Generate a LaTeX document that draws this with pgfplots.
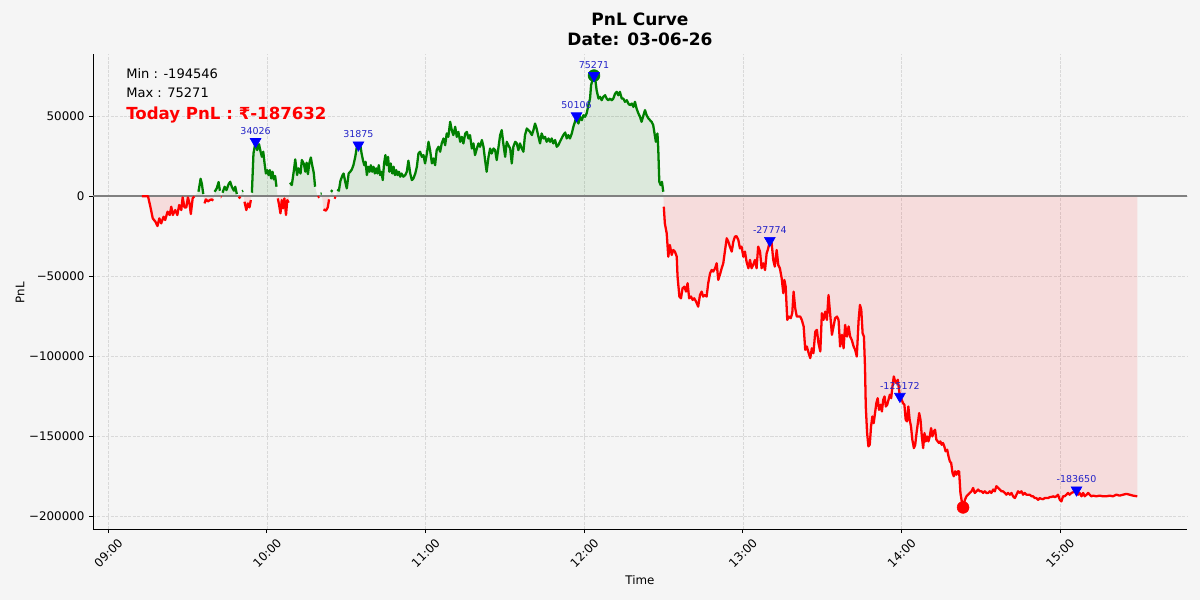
\documentclass[border=0pt]{standalone}
\usepackage{fontspec}
\setmainfont{DejaVu Sans}
\usepackage{pgfplots}
\pgfplotsset{compat=1.18}
\usepackage{pgfplotstable}
\definecolor{bgc}{HTML}{F5F5F5}
\definecolor{mgreen}{HTML}{008000}
\definecolor{mred}{HTML}{FF0000}
\definecolor{mblue}{HTML}{0000FF}
\definecolor{lblue}{HTML}{2424C8}
\definecolor{gridc}{HTML}{D9D9D9}

\pgfplotstableread{
t v
12.7 -100
15.0 -100
15.9 -6660
16.8 -13940
17.8 -16020
18.6 -18720
19.3 -13940
20.0 -17060
20.9 -12900
21.5 -14980
22.4 -9780
23.2 -11860
23.8 -6660
24.4 -11860
25.3 -8740
26.1 -11860
26.8 -5620
27.6 -8740
28.1 -830
28.8 -7070
29.5 -7070
30.1 -830
30.7 -4580
31.2 -11230
31.9 -1460
32.5 -200
34.1 2700
34.9 10800
35.4 7490
35.9 1250
36.4 -4580
36.9 -2080
37.7 -3330
38.4 -2500
39.2 -2080
39.7 -2900
40.2 2700
41.0 4780
41.7 8740
42.2 3330
42.6 -700
42.8 -830
43.2 2080
44.0 5820
44.7 3740
45.5 7490
46.1 8940
46.7 5820
47.5 3330
48.0 5820
48.6 1250
49.3 -1460
50.0 -420
50.6 3000
51.0 3330
51.5 -3540
52.2 -8740
52.8 -4580
53.4 -7070
53.9 -2500
54.3 2080
54.9 26600
55.7 34026
56.3 28700
57.0 32400
57.6 27700
58.1 24500
58.6 27700
59.1 20400
59.6 14100
60.1 16200
60.6 13100
61.1 16200
61.6 11000
62.1 15200
62.6 10400
63.1 12500
63.6 5820
64.1 -1460
64.6 -5620
65.1 -10800
65.6 -2500
66.1 -7700
66.6 -1460
67.2 -11860
67.7 -2500
68.2 -4160
68.7 8320
69.4 6860
70.2 16200
70.7 22900
71.4 13100
71.9 17300
72.7 14100
73.2 22500
74.0 20000
74.5 15200
75.0 20800
75.5 13700
76.0 20400
76.6 24100
77.1 19300
77.7 14600
78.2 5820
79.2 -830
79.8 -420
80.3 1500
80.7 1660
81.4 -8320
82.3 -9150
83.0 -7070
83.5 -2080
84.2 2700
84.8 3740
85.4 -830
86.1 -1250
86.6 4160
87.2 3330
87.8 9570
88.6 13100
89.0 14100
89.6 8940
90.2 4780
90.9 14100
91.5 15200
92.1 16600
92.7 19300
93.4 24500
94.0 30800
94.6 31875
95.3 31800
95.8 26600
96.3 22500
96.8 19300
97.3 21400
97.8 13100
98.3 18300
98.8 15200
99.3 19300
99.8 15200
100.3 18300
100.8 14100
101.3 17300
101.8 14100
102.3 19300
102.8 13100
103.3 15200
103.8 9980
104.3 20400
104.8 25600
105.3 19300
105.8 24500
106.3 15200
106.8 20400
107.4 14100
107.9 18300
108.4 13100
108.9 16200
109.4 13100
109.9 15200
110.4 12100
110.9 14100
111.6 12100
112.3 13100
112.9 15200
113.5 22100
114.2 14100
114.8 9980
115.4 11000
116.1 14100
116.7 18300
117.3 26600
117.9 27700
118.6 24500
119.2 25600
119.8 20400
120.5 26600
121.1 33900
121.7 28700
122.4 20400
123.0 23500
123.6 19300
124.2 28700
124.9 30800
125.5 27700
126.1 32900
126.8 36000
127.4 31800
128.0 39100
128.6 37000
129.3 46400
129.9 41200
130.5 38100
131.2 43300
131.8 37000
132.4 40100
133.1 33900
133.7 37000
134.3 32900
135.0 39100
135.6 40100
136.2 36000
136.8 38100
137.5 29700
138.1 32900
138.7 25600
139.4 29700
140.0 32900
140.6 30800
141.3 35000
141.9 30800
142.5 22500
143.1 15200
143.8 24500
144.4 29700
145.0 26600
145.7 29700
146.3 28700
146.9 22500
147.6 30800
148.2 38100
148.8 41200
149.4 32900
150.1 24500
150.7 33900
151.3 31800
152.0 29700
152.6 20400
153.2 30800
153.9 33900
154.5 32900
155.1 28700
155.7 32900
156.4 29700
157.0 27700
157.6 38100
158.3 42200
158.9 41200
159.5 40100
160.2 38100
160.8 41200
161.4 45300
162.0 42200
162.7 37000
163.3 32900
163.9 39100
164.6 36000
165.2 37000
165.8 33900
166.5 36000
167.1 33900
167.7 36000
168.3 32900
169.0 35000
169.6 30800
170.2 31800
171.1 34900
172.1 38100
172.8 39700
173.4 36000
174.0 38100
174.6 36000
175.3 39100
175.9 43300
176.5 46400
177.1 50106
177.8 45300
178.4 49500
179.1 47400
179.7 50500
180.3 49500
180.9 51600
181.6 56800
182.2 60900
182.6 69300
183.1 72400
183.7 75271
184.3 71300
184.7 66100
185.4 60900
186.0 62000
186.6 59900
187.2 62000
187.9 63000
188.5 60900
189.1 59900
189.8 60900
190.4 59900
191.0 60900
191.7 64100
192.3 65100
192.9 63000
193.5 65100
194.2 60900
194.8 60900
195.4 58900
196.1 59900
196.7 57800
197.3 56800
198.0 57800
198.6 55700
199.2 58900
199.8 54700
200.5 51600
201.1 49500
201.7 46400
202.4 50500
203.0 53700
203.6 50500
204.3 48500
204.9 47400
205.5 46400
206.1 44300
206.8 37000
207.1 33900
207.7 39100
208.0 29700
208.4 8940
208.9 6860
209.4 8940
209.9 2700
210.1 -6660
210.5 -17100
211.2 -23300
211.8 -37900
212.4 -30600
213.1 -36800
213.7 -33700
214.3 -34700
215.0 -37900
215.3 -50300
216.0 -62800
216.6 -63900
217.2 -57600
217.9 -56600
218.5 -59700
219.1 -54500
219.7 -63900
220.4 -62800
221.0 -64900
221.6 -63900
222.3 -65900
223.1 -69100
223.8 -61800
224.4 -59700
225.0 -62800
225.7 -61800
226.3 -62800
226.9 -54500
227.6 -48300
228.2 -46200
228.8 -47200
229.5 -45100
230.1 -42000
230.7 -52400
231.3 -49300
232.0 -45100
232.6 -42000
233.2 -34700
233.9 -26400
234.5 -28500
235.1 -31600
235.8 -34700
236.4 -28500
237.0 -25400
237.6 -25000
238.3 -27500
238.9 -32700
239.5 -31600
240.2 -37900
240.8 -34700
241.4 -41000
242.1 -45100
242.7 -39900
243.3 -45100
243.9 -43100
244.6 -39900
245.2 -45100
245.8 -31600
246.5 -34700
247.1 -45100
247.7 -42000
248.4 -46200
249.0 -35800
249.6 -32700
250.2 -27774
250.9 -29500
251.5 -39900
252.1 -44100
252.8 -33700
253.4 -43100
254.0 -45100
254.7 -51400
255.3 -60700
255.7 -52400
256.2 -56600
256.8 -77400
257.4 -75300
258.1 -76300
258.7 -73200
259.2 -59700
259.8 -70100
260.4 -75300
261.1 -75300
261.7 -75300
262.3 -77400
263.0 -81500
263.6 -96100
264.2 -94000
264.9 -98200
265.5 -101300
266.1 -95100
266.7 -98200
267.4 -84700
268.0 -83600
268.6 -91900
269.3 -97100
269.9 -73200
270.5 -77400
271.2 -72200
271.8 -77400
272.4 -61800
273.0 -73200
273.7 -86700
274.3 -81500
274.9 -76300
275.6 -75300
276.2 -77400
276.8 -94000
277.5 -86700
278.1 -95100
278.7 -80500
279.4 -87800
280.0 -81500
280.6 -87800
281.2 -89900
281.9 -94000
282.5 -96100
283.1 -100300
283.8 -77400
284.3 -68000
284.8 -71200
285.3 -85700
285.8 -87800
286.2 -106600
286.5 -131500
287.0 -148100
287.5 -156400
288.0 -155400
288.5 -143900
289.0 -137700
289.5 -141900
290.0 -135600
290.5 -129400
291.0 -126300
291.5 -133600
292.1 -130400
292.6 -134600
293.1 -127300
293.6 -125200
294.1 -131500
294.6 -130400
295.1 -127300
295.6 -124100
296.1 -126300
296.6 -118900
297.1 -112700
297.6 -115800
298.1 -116900
298.6 -114800
299.0 -120000
299.4 -125172
300.1 -127300
300.6 -129400
301.1 -130400
301.6 -139800
302.1 -140800
302.6 -131500
303.1 -139800
303.6 -143900
304.1 -152200
304.7 -157500
305.2 -155400
305.7 -148100
306.2 -141900
306.7 -135600
307.2 -139800
307.7 -150200
308.2 -157500
308.7 -148100
309.2 -153300
309.7 -150200
310.2 -153300
310.7 -150200
311.2 -145000
311.7 -150200
312.2 -147100
312.7 -146000
313.2 -152200
313.7 -153300
314.2 -154300
314.7 -153300
315.2 -155400
315.7 -154300
316.2 -156400
316.7 -159500
317.3 -158500
317.8 -162700
318.3 -165800
318.8 -166800
319.3 -173000
319.8 -175100
320.3 -172000
320.8 -174100
321.3 -172000
321.8 -172000
322.3 -185500
322.8 -190700
323.3 -194546
324.0 -189800
324.6 -187600
325.2 -186600
325.8 -185500
326.5 -184500
327.1 -182400
327.7 -185500
328.4 -184500
329.0 -183400
329.6 -184500
330.3 -184500
330.9 -185500
331.5 -184500
332.1 -185500
332.8 -185500
333.4 -184500
334.0 -185500
334.7 -183400
335.3 -184500
335.9 -181300
336.6 -182400
337.2 -183400
337.8 -184500
338.4 -184500
339.1 -185500
339.7 -186600
340.3 -185500
341.0 -186600
341.6 -185500
342.2 -187600
342.9 -188700
343.5 -186600
344.1 -184500
344.7 -185500
345.4 -184500
346.0 -186600
346.6 -185500
347.3 -186600
347.9 -186600
348.5 -186600
349.2 -187600
349.8 -187600
350.4 -188700
351.0 -188700
351.7 -189800
352.3 -188700
352.9 -189200
353.6 -189400
354.2 -188700
354.8 -188700
355.5 -188700
356.1 -188100
356.7 -188100
357.3 -187600
358.0 -188100
358.6 -187600
359.2 -186600
359.9 -189800
360.5 -190800
361.1 -187600
361.7 -187600
362.4 -186600
363.0 -185500
363.6 -186600
364.3 -185500
364.9 -185100
366.2 -183650
366.8 -186600
367.4 -185500
368.1 -187600
368.7 -185500
369.3 -187600
370.0 -186600
370.6 -185500
371.2 -186600
371.8 -187600
372.5 -187200
373.7 -187600
375.0 -187200
376.2 -187600
377.5 -187600
378.8 -187200
380.0 -187600
381.3 -186600
382.5 -187200
383.8 -186600
385.1 -186100
386.3 -186600
387.6 -187200
389.2 -187632
}\pnl

\pgfplotstableread{
t v lab
55.7 34026 34026
94.6 31875 31875
177.1 50106 50106
183.7 75271 75271
250.2 -27774 -27774
299.4 -125172 -125172
366.2 -183650 -183650
}\peaks

\begin{document}
\begin{tikzpicture}
\fill[bgc] (0pt,0pt) rectangle (867.24pt,433.62pt);
\path[use as bounding box] (0pt,0pt) rectangle (867.24pt,433.62pt);
\begin{axis}[
  at={(67.21pt,51.31pt)}, anchor=south west,
  scale only axis, width=790.63pt, height=343.28pt,
  xmin=-5.8, xmax=408, ymin=-208040, ymax=88762,
  axis lines*=left,
  axis line style={black, line width=0.69pt},
  tick align=outside, major tick length=3pt,
  tick style={black, line width=0.69pt},
  xtick={0,60,120,180,240,300,360},
  xticklabels={09:00,10:00,11:00,12:00,13:00,14:00,15:00},
  ytick={-200000,-150000,-100000,-50000,0,50000},
  yticklabels={−200000,−150000,−100000,−50000,0,50000},
  scaled y ticks=false,
  minor tick num=0,
  grid=major,
  major grid style={gridc, dash pattern=on 2.2pt off 1pt, line width=0.5pt},
  tick label style={font=\fontsize{8.57}{10}\selectfont},
  yticklabel style={anchor=east, inner sep=0pt, xshift=-3pt},
  xticklabel style={inner sep=0pt, xshift=6.5pt, yshift=-3pt, rotate=45, anchor=north east},
]
\begin{scope}
\clip (axis cs:-10,0) rectangle (axis cs:420,100000);
\addplot[fill=mgreen, fill opacity=0.1, draw=none, forget plot] table[x=t,y=v] {\pnl} \closedcycle;
\end{scope}
\begin{scope}
\clip (axis cs:-10,-250000) rectangle (axis cs:420,0);
\addplot[fill=mred, fill opacity=0.1, draw=none, forget plot] table[x=t,y=v] {\pnl} \closedcycle;
\end{scope}
\addplot[color=gray, line width=0.9pt, forget plot] coordinates {(-5.8,0) (408,0)};
\addplot[color=mgreen, line width=1.65pt, line join=round, unbounded coords=jump, restrict y to domain=0:1000000] table[x=t,y=v] {\pnl};
\addplot[color=mred, line width=1.65pt, line join=round, unbounded coords=jump, restrict y to domain=-1000000:-1] table[x=t,y=v] {\pnl};
\addplot[only marks, mark=*, mark size=4.3pt, mark options={fill=mgreen, draw=mgreen}] coordinates {(183.7,75271)};
\addplot[only marks, mark=*, mark size=4.3pt, mark options={fill=mred, draw=mred}] coordinates {(323.3,-194546)};
\addplot[only marks, mark=triangle*, mark size=4.5pt, mark options={rotate=180, fill=mblue, draw=mblue},
  nodes near coords, point meta=explicit symbolic,
  every node near coord/.append style={font=\fontsize{6.86}{8}\selectfont, text=lblue, anchor=south, inner sep=0pt, yshift=4.9pt}]
  table[x=t, y=v, meta=lab] {\peaks};
\end{axis}
\node[anchor=base, inner sep=0pt, font=\bfseries\fontsize{12.3}{14}\selectfont] at (462.5pt,415.2pt) {PnL Curve};
\node[anchor=base, inner sep=0pt, font=\bfseries\fontsize{12.3}{14}\selectfont] at (462.5pt,400.7pt) {Date: 03-06-26};
\node[anchor=base west, inner sep=0pt, font=\fontsize{9.43}{11}\selectfont] at (91.06pt,377.03pt) {Min : -194546};
\node[anchor=base west, inner sep=0pt, font=\fontsize{9.43}{11}\selectfont] at (91.06pt,363.3pt) {Max : 75271};
\node[anchor=base west, inner sep=0pt, text=mred, font=\bfseries\fontsize{12}{14}\selectfont] at (91.06pt,347.1pt) {Today PnL : ₹-187632};
\node[rotate=90, font=\fontsize{8.57}{10}\selectfont] at (14.45pt,222.0pt) {PnL};
\node[font=\fontsize{8.57}{10}\selectfont] at (462.5pt,14.45pt) {Time};
\end{tikzpicture}
\end{document}
